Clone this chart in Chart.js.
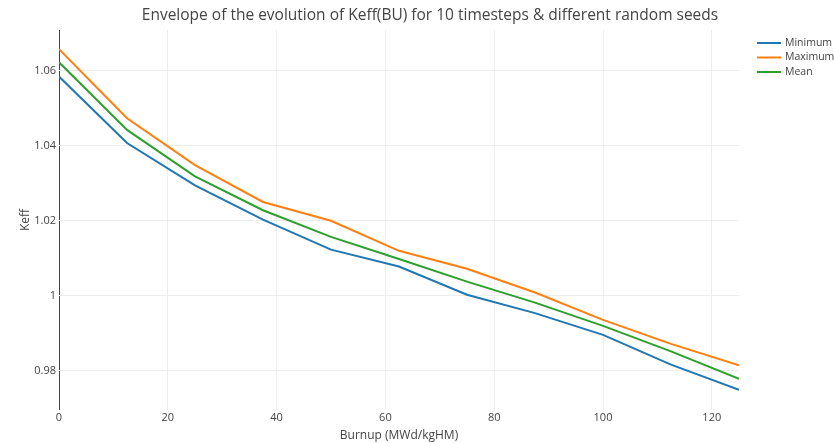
<!DOCTYPE html>
<html>
<head>
<meta charset="utf-8">
<script src="https://cdn.jsdelivr.net/npm/chart.js@4.4.1/dist/chart.umd.min.js"></script>
<style>
  html, body { margin: 0; padding: 0; background: #fff; }
  #wrap { width: 834px; height: 443px; }
</style>
</head>
<body>
<div id="wrap"><canvas id="keffChart" width="834" height="443"></canvas></div>
<script>
// burnup steps (MWd/kgHM) and Keff envelope over the random seeds
const burnup = [0, 12.5, 25, 37.5, 50, 62.5, 75, 87.5, 100, 112.5, 125];
const keffMin = [1.0584, 1.0407, 1.0294, 1.0203, 1.0123, 1.0078, 1.0003, 0.9954, 0.9896, 0.9817, 0.9750];
const keffMax = [1.0657, 1.0473, 1.0348, 1.0250, 1.0200, 1.0120, 1.0072, 1.0009, 0.9936, 0.9872, 0.9815];
const keffMean = [1.0622, 1.0442, 1.0318, 1.0228, 1.0157, 1.0098, 1.0038, 0.9982, 0.9920, 0.9852, 0.9779];

const seriesNames = ['Minimum', 'Maximum', 'Mean'];
const seriesColors = ['#1f77b4', '#ff7f0e', '#2ca02c'];
const xTickValues = [0, 20, 40, 60, 80, 100, 120];
const yTickValues = [0.98, 1.0, 1.02, 1.04, 1.06];
const chartTitle = 'Envelope of the evolution of Keff(BU) for 10 timesteps & different random seeds';

const FONT = "'Open Sans', 'DejaVu Sans', sans-serif";
const TEXT = '#444';

function points(values) {
    return burnup.map((x, i) => ({ x: x, y: values[i] }));
}

// title and legend, laid out plotly-style
const decorPlugin = {
    id: 'decor',
    afterDraw(chart) {
        const ctx = chart.ctx;
        ctx.save();
        ctx.fillStyle = TEXT;
        ctx.textBaseline = 'middle';
        ctx.textAlign = 'center';
        ctx.font = '15.5px ' + FONT;
        ctx.fillText(chartTitle, 430, 16);

        ctx.textAlign = 'left';
        ctx.font = '10.5px ' + FONT;
        chart.data.datasets.forEach((ds, i) => {
            const y = 43 + i * 14.5;
            ctx.strokeStyle = ds.borderColor;
            ctx.lineWidth = 2;
            ctx.beginPath();
            ctx.moveTo(757, y);
            ctx.lineTo(781, y);
            ctx.stroke();
            ctx.fillText(ds.label, 785, y);
        });
        ctx.restore();
    }
};

const canvas = document.getElementById('keffChart');
new Chart(canvas, {
    type: 'line',
    data: {
        datasets: [keffMin, keffMax, keffMean].map((vals, i) => ({
            label: seriesNames[i],
            data: points(vals),
            borderColor: seriesColors[i],
            backgroundColor: seriesColors[i],
            borderWidth: 2,
            pointRadius: 0,
            tension: 0,
            fill: false
        }))
    },
    options: {
        responsive: false,
        animation: false,
        devicePixelRatio: 1,
        layout: { padding: { top: 30, right: 95, bottom: 0, left: 0 } },
        plugins: {
            legend: { display: false },
            title: { display: false },
            tooltip: { enabled: false }
        },
        scales: {
            x: {
                type: 'linear',
                min: 0,
                max: 125,
                afterBuildTicks: scale => { scale.ticks = xTickValues.map(v => ({ value: v })); },
                afterFit: scale => { scale.height = 33; },
                grid: {
                    color: ctx => (ctx.tick && ctx.tick.value === 0 ? TEXT : '#eee'),
                    lineWidth: 1,
                    drawTicks: false
                },
                border: { display: false },
                ticks: {
                    padding: 1,
                    color: TEXT,
                    font: { family: FONT, size: 11 },
                    maxRotation: 0
                },
                title: {
                    display: true,
                    text: 'Burnup (MWd/kgHM)',
                    color: TEXT,
                    font: { family: FONT, size: 12 },
                    padding: { top: 0, bottom: 0 }
                }
            },
            y: {
                type: 'linear',
                min: 0.9696,
                max: 1.0708,
                afterBuildTicks: scale => { scale.ticks = yTickValues.map(v => ({ value: v })); },
                afterFit: scale => { scale.width = 59; },
                grid: { color: '#eee', lineWidth: 1, drawTicks: false },
                border: { display: false },
                ticks: {
                    padding: 3,
                    color: TEXT,
                    font: { family: FONT, size: 11 },
                    callback: v => String(Number(v.toFixed(2)))
                },
                title: {
                    display: true,
                    text: 'Keff',
                    color: TEXT,
                    font: { family: FONT, size: 12 },
                    padding: { top: 18, bottom: 0 }
                }
            }
        }
    },
    plugins: [decorPlugin]
});
</script>
</body>
</html>
